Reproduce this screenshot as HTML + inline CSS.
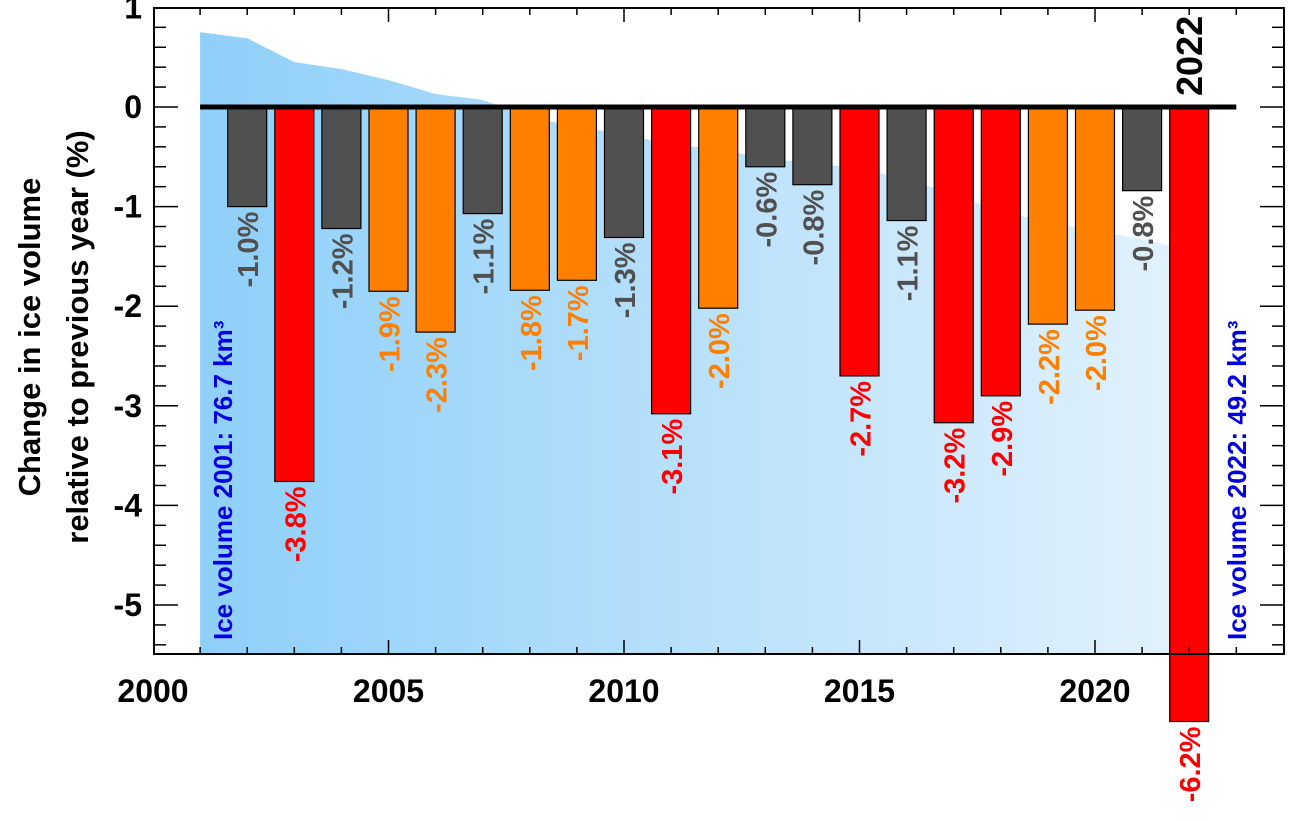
<!DOCTYPE html>
<html><head><meta charset="utf-8">
<style>
html,body{margin:0;padding:0;background:#fff;}
svg{display:block;font-family:"Liberation Sans",Arial,sans-serif;}
</style></head>
<body>
<svg id="chart" width="1294" height="821" viewBox="0 0 1294 821">
<defs>
<linearGradient id="iceGrad" x1="0" y1="0" x2="1" y2="0">
<stop offset="0" stop-color="#8ecff9"/>
<stop offset="1" stop-color="#e2f2fc"/>
</linearGradient>
</defs>
</svg>
<script>
const years = [2002,2003,2004,2005,2006,2007,2008,2009,2010,2011,2012,2013,2014,2015,2016,2017,2018,2019,2020,2021,2022];
const changes = [-1.0,-3.76,-1.22,-1.85,-2.26,-1.07,-1.84,-1.74,-1.31,-3.08,-2.02,-0.6,-0.78,-2.7,-1.14,-3.17,-2.9,-2.18,-2.04,-0.84,-6.17];
const labels = ["-1.0%","-3.8%","-1.2%","-1.9%","-2.3%","-1.1%","-1.8%","-1.7%","-1.3%","-3.1%","-2.0%","-0.6%","-0.8%","-2.7%","-1.1%","-3.2%","-2.9%","-2.2%","-2.0%","-0.8%","-6.2%"];
const volYears = [2001,2002,2003,2004,2005,2006,2007,2008,2009,2010,2011,2012,2013,2014,2015,2016,2017,2018,2019,2020,2021,2022];
const volLevel = [0.75,0.69,0.45,0.38,0.27,0.13,0.07,-0.1,-0.2,-0.27,-0.38,-0.42,-0.52,-0.56,-0.62,-0.72,-0.88,-1.05,-1.15,-1.25,-1.32,-1.45];
const yTicks = [1,0,-1,-2,-3,-4,-5];
const xTicks = [2000,2005,2010,2015,2020];

const NS="http://www.w3.org/2000/svg";
const svg=document.getElementById('chart');
const L=154,R=1284,T=8,B=654;
const X=y=>153+(y-2000)*47.1;
const Y=v=>107-v*99.6;
function mk(tag,attrs,parent){const e=document.createElementNS(NS,tag);for(const k in attrs)e.setAttribute(k,attrs[k]);(parent||svg).appendChild(e);return e;}
function color(v){return v<=-2.5?"#ff0000":(v<=-1.5?"#ff8000":"#505050");}

// ice area
let d="M"+X(volYears[0])+","+B;
volYears.forEach((yr,i)=>{d+=" L"+X(yr)+","+Y(volLevel[i]);});
d+=" L"+X(volYears[volYears.length-1])+","+B+" Z";
const area=mk('path',{d:d,fill:'url(#iceGrad)'});



// bars
years.forEach((yr,i)=>{
  const v=changes[i],cx=X(yr);
  const r=mk('rect',{x:cx-19.5,y:Y(0),width:39,height:Y(v)-Y(0),fill:color(v),stroke:'#000','stroke-width':1.2});
  
  
  const ty=Y(v)+5;
  const t=mk('text',{x:0,y:0,transform:'translate('+(cx+11)+','+ty+') rotate(-90)','text-anchor':'end','font-size':29,'font-weight':'bold',fill:color(v)});
  t.textContent=labels[i];
  
  
});

// zero line
const z=mk('line',{x1:X(2001),x2:X(2023),y1:Y(0),y2:Y(0),stroke:'#000','stroke-width':5});



// frame
const fr=mk('rect',{x:L,y:T,width:R-L,height:B-T,fill:'none',stroke:'#000','stroke-width':2});



// y ticks
for(let k=-27;k<=5;k++){
  const v=k/5,yy=Y(v);if(yy<T||yy>B)continue;
  const major=(k%5===0);const len=major?24:12;
  mk('line',{x1:L,x2:L+len,y1:yy,y2:yy,stroke:'#000','stroke-width':1.5});
  mk('line',{x1:R,x2:R-len,y1:yy,y2:yy,stroke:'#000','stroke-width':1.5});
}
yTicks.forEach(v=>{
  const t=mk('text',{x:142,y:Y(v)+11,'text-anchor':'end','font-size':32,'font-weight':'bold',fill:'#000'});
  t.textContent=String(v);
  
  
});
// x ticks
for(let yr=2001;yr<=2023;yr++){
  const xx=X(yr);const len=(yr%5===0)?14:7;
  mk('line',{x1:xx,x2:xx,y1:T,y2:T+len,stroke:'#000','stroke-width':1.5});
  mk('line',{x1:xx,x2:xx,y1:B,y2:B-len,stroke:'#000','stroke-width':1.5});
}
xTicks.forEach(yr=>{
  const t=mk('text',{x:X(yr),y:702,'text-anchor':'middle','font-size':32,'font-weight':'bold',fill:'#000'});
  t.textContent=yr;
  
  
});

// 2022 label
const t22=mk('text',{x:0,y:0,transform:'translate('+(X(2022)+13)+',96) rotate(-90)','text-anchor':'start','font-size':36,'font-weight':'bold',fill:'#000'});
t22.textContent='2022';



// volume annotations
const a1=mk('text',{x:0,y:0,transform:'translate(232,640) rotate(-90)','font-size':26,'font-weight':'bold',fill:'#0000e0'});
a1.innerHTML='Ice volume 2001: 76.7 km³';


const a2=mk('text',{x:0,y:0,transform:'translate(1246,640) rotate(-90)','font-size':26,'font-weight':'bold',fill:'#0000e0'});
a2.innerHTML='Ice volume 2022: 49.2 km³';



// y title
const yt=mk('text',{x:0,y:0,transform:'translate(0,337) rotate(-90)','text-anchor':'middle','font-size':31,'font-weight':'bold',fill:'#000'});


const s1=mk('tspan',{x:0,y:40},yt);s1.textContent='Change in ice volume';
const s2=mk('tspan',{x:0,y:88},yt);s2.textContent='relative to previous year (%)';
</script>
</body></html>
